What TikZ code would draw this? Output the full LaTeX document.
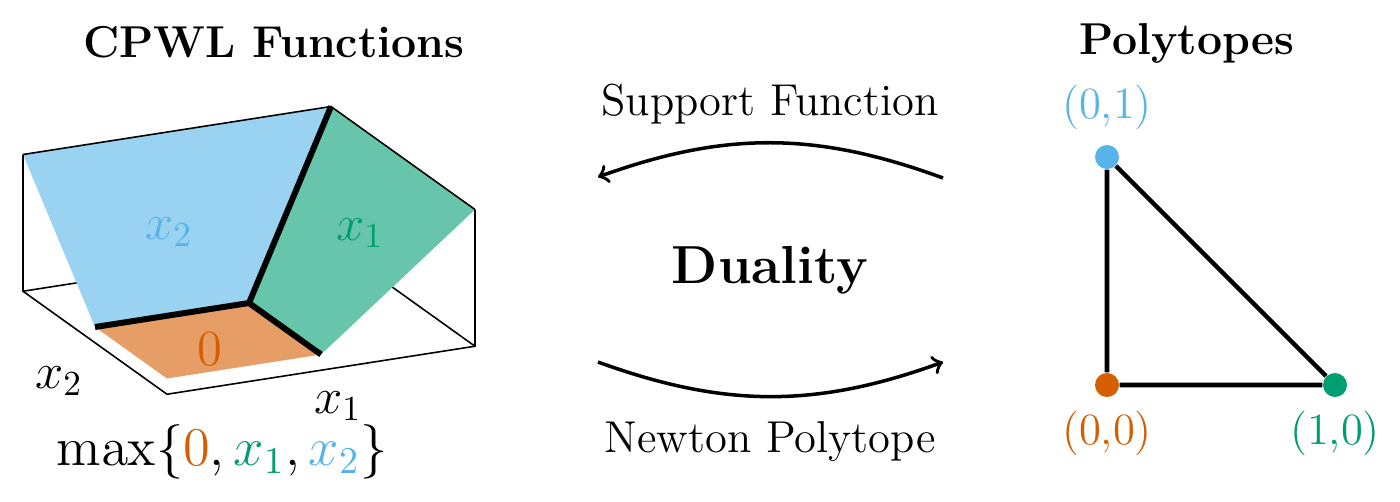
\documentclass[tikz,border=0pt]{standalone}
\usepackage{tikz}
\usetikzlibrary{calc, shapes, arrows, positioning}
\definecolor{skyb}{HTML}{56B4E9}
\definecolor{bgreen}{HTML}{009E73}
\definecolor{vermil}{HTML}{D55E00}

\begin{document}
\begin{tikzpicture}[font=\fontsize{12.7pt}{15pt}\selectfont]
\tikzstyle{vertex}=[circle,minimum size=0.24cm,inner sep=0pt]
\tikzstyle{boxline}=[line width=0.45pt]
\tikzstyle{crease}=[line width=1.7pt]
\tikzstyle{title}=[font=\fontsize{12.7pt}{15pt}\selectfont\bfseries,anchor=base]
\tikzstyle{big}=[font=\fontsize{15.24pt}{18pt}\selectfont,anchor=base]
\tikzstyle{lbl}=[anchor=base]
\tikzstyle{plotlbl}=[font=\fontsize{14.4pt}{17pt}\selectfont,anchor=base,inner sep=0pt]
\tikzstyle{map}=[->,line width=1pt,bend right=20]
\useasboundingbox (0,0) rectangle (14,5.01);

% max{0,x1,x2} over [-1,1]^2
\begin{scope}[shift={(2.49,1.98)},x={(1.54cm,0.24cm)},y={(-0.72cm,0.515cm)},z={(0cm,1.21cm)}]
\draw[boxline] (-1,1,-0.13) -- (1,1,-0.13) -- (1,-1,-0.13);
\draw[boxline] (1,1,-0.13) -- (1,1,1);
\fill[vermil!60] (-1,-1,0) -- (0,-1,0) -- (0,0,0) -- (-1,0,0) -- cycle;
\fill[skyb!60] (-1,0,0) -- (0,0,0) -- (1,1,1) -- (-1,1,1) -- cycle;
\fill[bgreen!60] (0,-1,0) -- (0,0,0) -- (1,1,1) -- (1,-1,1) -- cycle;
\draw[crease] (-1,0,0) -- (0,0,0) -- (0,-1,0);
\draw[crease] (0,0,0) -- (1,1,1);
\draw[boxline] (-1,1,1) -- (-1,1,-0.13) -- (-1,-1,-0.13) -- (1,-1,-0.13) -- (1,-1,1);
\draw[boxline] (-1,1,1) -- (1,1,1) -- (1,-1,1);
\end{scope}

\node[plotlbl,text=skyb] (L_blue) at (1.69,2.62) {$x_2$};
\node[plotlbl,text=bgreen] (L_green) at (3.60,2.61) {$x_1$};
\node[plotlbl,text=vermil] (L_orange) at (2.10,1.36) {$0$};
\node[plotlbl] (A_2) at (0.59,1.13) {$x_2$};
\node[plotlbl] (A_1) at (3.38,0.88) {$x_1$};
\node[plotlbl,scale=1.077,transform shape] (F_max) at (2.22,0.36) {$\max\{\textcolor{vermil}{0},\textcolor{bgreen}{x_1},\textcolor{skyb}{x_2}\}$};

\node[title] (T_cpwl) at (2.74,4.44) {CPWL Functions};
\node[title] (T_poly) at (11.87,4.47) {Polytopes};

% duality arrows
\coordinate (S_r) at (9.43,3.23);
\coordinate (S_l) at (5.98,3.24);
\coordinate (N_l) at (5.98,1.39);
\coordinate (N_r) at (9.43,1.39);
\draw[map] (S_r) to (S_l);
\draw[map] (N_l) to (N_r);
\node[lbl] (T_sup) at (7.70,3.86) {Support Function};
\node[lbl] (T_newt) at (7.70,0.49) {Newton Polytope};
\node[big] (T_dual) at (7.70,2.18) {\bfseries Duality};

% Newton polytope
\node[vertex,fill=skyb] (P_01) at (11.07,3.44) {};
\node[vertex,fill=vermil] (P_00) at (11.07,1.16) {};
\node[vertex,fill=bgreen] (P_10) at (13.35,1.16) {};
\draw[line width=1.3pt] (P_01) -- (P_00) -- (P_10) -- (P_01);
\node[text=skyb,above=0.02cm of P_01] (L_01) {(0,1)};
\node[text=vermil,below=0.01cm of P_00] (L_00) {(0,0)};
\node[text=bgreen,below=0.01cm of P_10] (L_10) {(1,0)};
\end{tikzpicture}
\end{document}
